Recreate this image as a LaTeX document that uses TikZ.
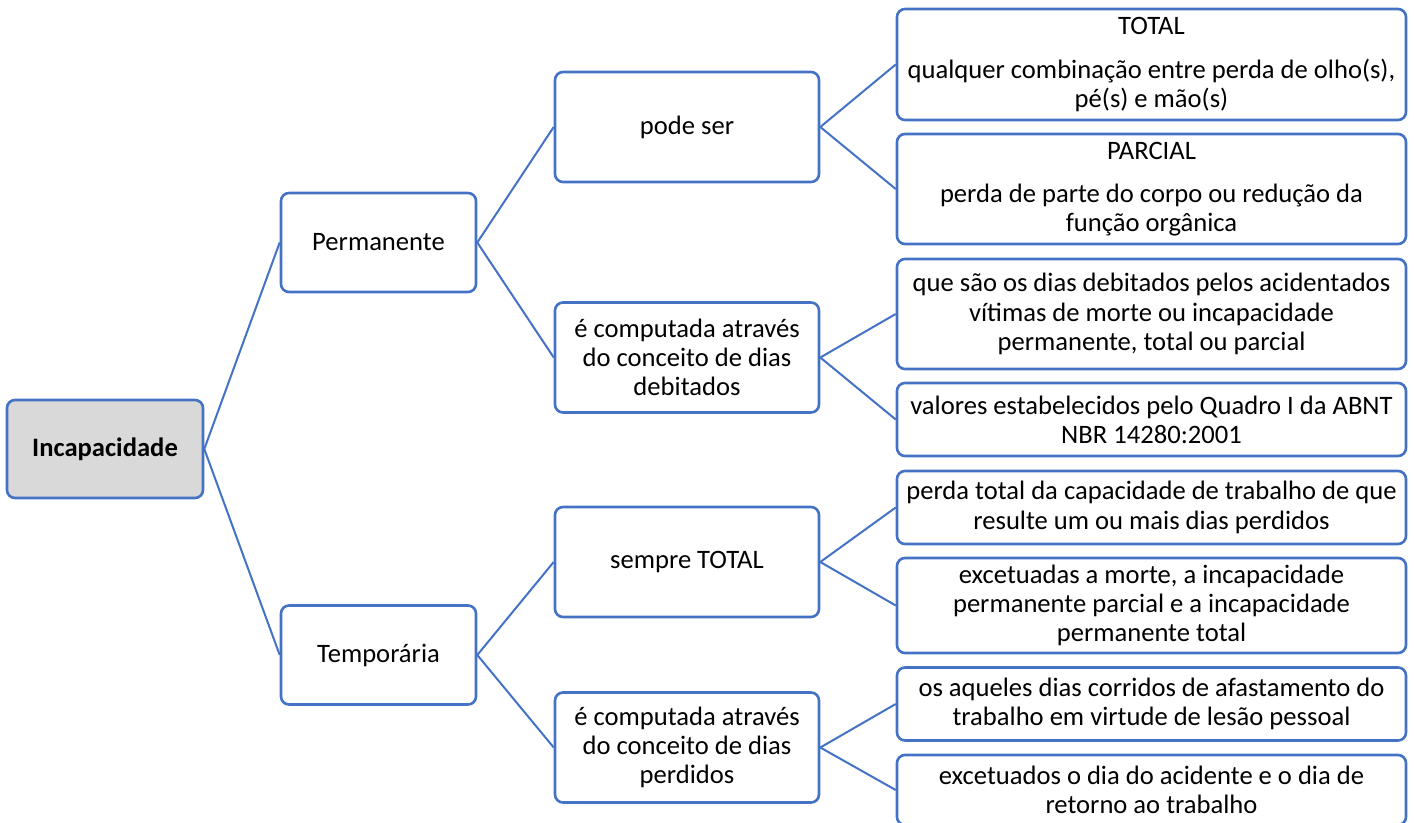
\documentclass[tikz,border=0pt]{standalone}
\usepackage{fontspec}
\setmainfont{Carlito}
\usepackage{tikz}
\usetikzlibrary{backgrounds}
\definecolor{box-blue}{RGB}{68,114,196}
\definecolor{shaded-grey}{RGB}{217,217,217}
\tikzstyle{boxed}=[draw=box-blue, line width=1.3pt, rounded corners=4pt, fill=white, align=center, inner sep=0pt, font=\fontsize{13.3}{14.6}\selectfont]
\tikzstyle{shaded}=[fill=shaded-grey]
\tikzstyle{link}=[draw=box-blue, line width=1pt]
\tikzstyle{midbox}=[boxed, minimum width=97.5pt, minimum height=49.5pt]
\tikzstyle{stepbox}=[boxed, minimum width=132pt, minimum height=55pt]
\tikzstyle{leafbox}=[boxed, minimum width=254.5pt]
\begin{document}
\begin{tikzpicture}[x=0.5pt,y=-0.5pt]
	\useasboundingbox (0,0) rectangle (1414,823);
	% root
	\node[boxed, shaded, minimum width=98pt, minimum height=49pt] (inc) at (105,449) {\textbf{Incapacidade}};
	% second level
	\node[midbox] (perm) at (378.5,242.5) {Permanente};
	\node[midbox] (temp) at (378.5,655) {Temporária};
	% third level
	\node[stepbox] (pode) at (687,127) {pode ser};
	\node[stepbox] (deb) at (687,357.5) {é computada através\\do conceito de dias\\debitados};
	\node[stepbox] (sempre) at (687,562) {sempre TOTAL};
	\node[stepbox] (perd) at (687,747.5) {é computada através\\do conceito de dias\\perdidos};
	% leaves
	\node[leafbox, minimum height=55.5pt] (total) at (1151.5,64.5) {TOTAL\\[7.5pt]qualquer combinação entre perda de olho(s),\\pé(s) e mão(s)};
	\node[leafbox, minimum height=55pt] (parcial) at (1151.5,189) {PARCIAL\\[7pt]perda de parte do corpo ou redução da\\função orgânica};
	\node[leafbox, minimum height=55pt] (quesao) at (1151.5,314) {que são os dias debitados pelos acidentados\\vítimas de morte ou incapacidade\\permanente, total ou parcial};
	\node[leafbox, minimum height=36.5pt] (valores) at (1151.5,419.5) {valores estabelecidos pelo Quadro I da ABNT\\NBR 14280:2001};
	\node[leafbox, minimum height=36.5pt] (perdatot) at (1151.5,507.5) {perda total da capacidade de trabalho de que\\resulte um ou mais dias perdidos};
	\node[leafbox, minimum height=47.5pt] (exceta) at (1151.5,605.5) {excetuadas a morte, a incapacidade\\permanente parcial e a incapacidade\\permanente total};
	\node[leafbox, minimum height=36.5pt] (corridos) at (1151.5,704) {os aqueles dias corridos de afastamento do\\trabalho em virtude de lesão pessoal};
	\node[leafbox, minimum height=35pt] (excetos) at (1151.5,790) {excetuados o dia do acidente e o dia de\\retorno ao trabalho};
	% connectors
	\draw[link] (inc.east) -- (perm.west);
	\draw[link] (inc.east) -- (temp.west);
	\draw[link] (perm.east) -- (pode.west);
	\draw[link] (perm.east) -- (deb.west);
	\draw[link] (temp.east) -- (sempre.west);
	\draw[link] (temp.east) -- (perd.west);
	\draw[link] (pode.east) -- (total.west);
	\draw[link] (pode.east) -- (parcial.west);
	\draw[link] (deb.east) -- (quesao.west);
	\draw[link] (deb.east) -- (valores.west);
	\draw[link] (sempre.east) -- (perdatot.west);
	\draw[link] (sempre.east) -- (exceta.west);
	\draw[link] (perd.east) -- (corridos.west);
	\draw[link] (perd.east) -- (excetos.west);
\end{tikzpicture}
\end{document}
